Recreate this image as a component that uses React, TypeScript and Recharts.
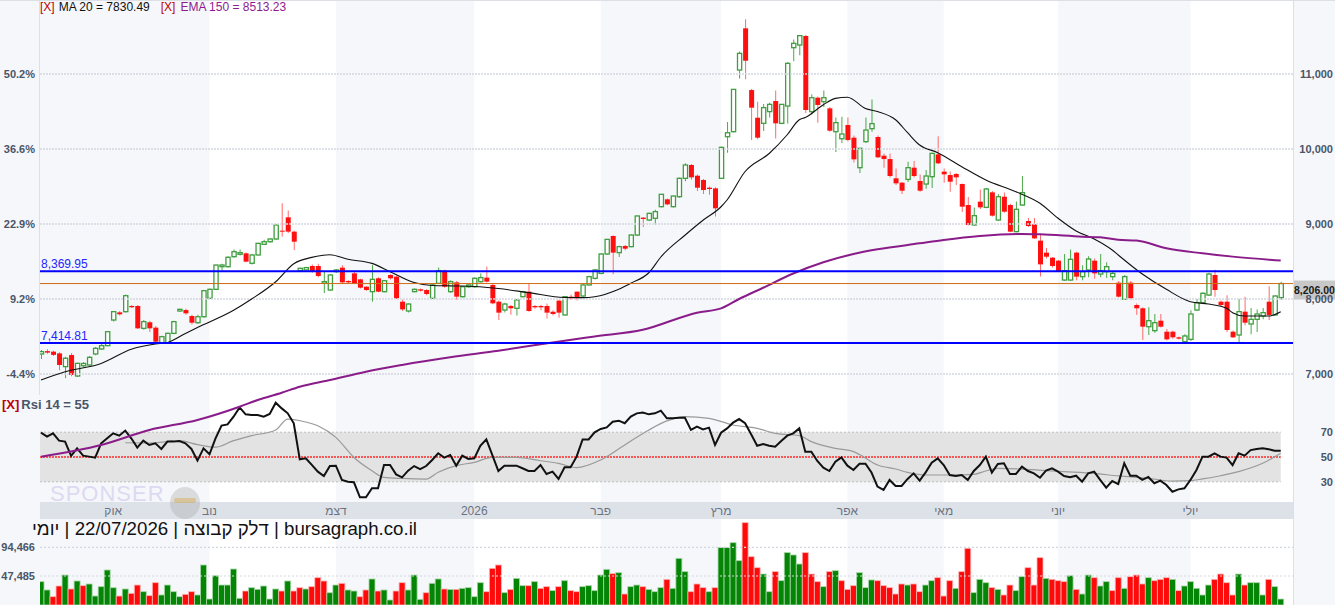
import React from 'react';
import { ComposedChart, Bar, Line, XAxis, YAxis, ReferenceLine, ReferenceArea } from 'recharts';

// daily candles (index 0 = first bar on the left)
const OPEN = [
  7267, 7305, 7298, 7275, 7098, 7253, 6973, 7110, 7120, 7267,
  7334, 7378, 7720, 7822, 7831, 7907, 7907, 7609, 7690, 7618,
  7418, 7418, 7542, 7840, 7853, 7773, 7684, 7764, 8009, 8129,
  8431, 8431, 8564, 8596, 8609, 8476, 8587, 8729, 8764, 8800,
  8911, 9089, 8898, 8378, 8387, 8440, 8440, 8209, 8120, 8365,
  8418, 8240, 8342, 8262, 8164, 8098, 8276, 8098, 8320, 8298,
  7964, 7840, 8098, 8129, 8120, 8009, 8209, 8378, 8098, 8222,
  8031, 8164, 8164, 8231, 8285, 8187, 7964, 7853, 7907, 7876,
  8031, 8098, 7907, 7907, 7907, 7830, 7978, 7787, 8031, 8098,
  8040, 8187, 8276, 8342, 8600, 8840, 8618, 8707, 8698, 8853,
  9085, 9053, 9076, 9231, 9329, 9231, 9364, 9609, 9787, 9644,
  9587, 9484, 9475, 9609, 10164, 10231, 11053, 11609, 10786, 10417,
  10342, 10498, 10640, 10342, 10573, 11351, 11387, 11507, 10498, 10684,
  10631, 10542, 10231, 10137, 10320, 10151, 9751, 10098, 10271, 10160,
  9911, 9866, 9609, 9551, 9595, 9751, 9573, 9533, 9631, 9929,
  9698, 9653, 9667, 9533, 9253, 8987, 9298, 9222, 9422, 9053,
  9364, 9253, 8898, 9253, 9040, 8996, 8778, 8618, 8551, 8511,
  8253, 8253, 8618, 8298, 8387, 8511, 8333, 8364, 8298, 8218,
  7996, 8218, 7920, 7876, 7631, 7578, 7711, 7564, 7564, 7489,
  7431, 7462, 7853, 7951, 8053, 8320, 7964, 7964, 7564, 7520,
  7831, 7667, 7729, 7773, 7964, 7787, 8018,
];
const HIGH = [
  7320, 7330, 7310, 7290, 7230, 7280, 7150, 7160, 7240, 7360,
  7400, 7570, 7840, 7840, 8060, 7920, 7920, 7720, 7710, 7640,
  7510, 7550, 7710, 7870, 7870, 7790, 7790, 8120, 8140, 8460,
  8470, 8570, 8660, 8660, 8620, 8600, 8750, 8790, 8810, 8990,
  9276, 9180, 8910, 8420, 8430, 8460, 8470, 8365, 8330, 8400,
  8450, 8250, 8360, 8270, 8170, 8453, 8290, 8250, 8330, 8310,
  7990, 7940, 8140, 8140, 8130, 8200, 8420, 8390, 8250, 8240,
  8170, 8200, 8290, 8342, 8431, 8200, 7980, 7950, 7920, 8000,
  8110, 8209, 7920, 7920, 7940, 7850, 7990, 8040, 8060, 8100,
  8200, 8310, 8400, 8610, 8800, 8850, 8710, 8720, 8860, 9110,
  9090, 9150, 9190, 9400, 9340, 9380, 9620, 9810, 9800, 9660,
  9600, 9500, 9490, 10030, 10360, 10800, 11300, 11730, 10800, 10630,
  10600, 10620, 10780, 10600, 11160, 11460, 11520, 11520, 10730, 10700,
  10780, 10560, 10420, 10430, 10420, 10180, 10010, 10420, 10660, 10180,
  9940, 9940, 9740, 9560, 9830, 9840, 9660, 9720, 9950, 10170,
  9740, 9700, 9680, 9540, 9360, 9220, 9460, 9480, 9440, 9400,
  9420, 9270, 9300, 9640, 9080, 9080, 8870, 8680, 8560, 8520,
  8600, 8660, 8630, 8450, 8570, 8540, 8600, 8490, 8360, 8240,
  8320, 8240, 7940, 7890, 7890, 7800, 7800, 7600, 7580, 7500,
  7530, 7850, 8000, 8090, 8350, 8390, 7980, 8050, 7580, 8000,
  8030, 7880, 7860, 7880, 8170, 8050, 8230,
];
const LOW = [
  7200, 7270, 7240, 7050, 6945, 6970, 6960, 7090, 7100, 7250,
  7320, 7370, 7700, 7780, 7820, 7880, 7600, 7590, 7560, 7400,
  7400, 7410, 7530, 7830, 7790, 7660, 7670, 7750, 8000, 8120,
  8380, 8420, 8550, 8580, 8490, 8460, 8580, 8720, 8750, 8790,
  8831, 8880, 8653, 8370, 8370, 8350, 8290, 8080, 8110, 8350,
  8200, 8210, 8200, 8140, 8110, 7964, 8090, 8090, 8260, 8000,
  7840, 7820, 8090, 8100, 8050, 8000, 8200, 8150, 8080, 7990,
  8020, 8150, 8150, 8220, 8220, 7930, 7720, 7820, 7790, 7780,
  8020, 7830, 7870, 7850, 7740, 7780, 7750, 7780, 7990, 7980,
  8030, 8180, 8260, 8330, 8590, 8330, 8560, 8650, 8690, 8840,
  8960, 9040, 8990, 9220, 9250, 9220, 9350, 9570, 9590, 9440,
  9400, 9390, 9100, 9600, 9950, 10220, 10940, 10930, 10120, 10130,
  10240, 10420, 10140, 10330, 10340, 11170, 11250, 10480, 10460, 10350,
  10560, 10230, 9960, 10080, 10100, 9820, 9680, 10080, 10230, 9880,
  9750, 9620, 9520, 9400, 9560, 9620, 9430, 9470, 9480, 9800,
  9550, 9430, 9520, 9160, 8980, 8980, 9200, 9210, 9100, 9040,
  9150, 8890, 8890, 9240, 8960, 8800, 8300, 8540, 8420, 8360,
  8240, 8240, 8250, 8250, 8290, 8270, 8290, 8280, 8250, 8020,
  7990, 7990, 7787, 7453, 7520, 7550, 7620, 7450, 7470, 7460,
  7420, 7440, 7840, 7940, 8040, 8030, 7900, 7560, 7480, 7420,
  7650, 7530, 7560, 7730, 7720, 7780, 7990,
];
const CLOSE = [
  7298, 7285, 7255, 7120, 7210, 6987, 7142, 7140, 7222, 7342,
  7378, 7564, 7831, 7796, 8044, 7890, 7609, 7698, 7609, 7431,
  7498, 7542, 7698, 7862, 7809, 7684, 7764, 8111, 8129, 8453,
  8453, 8556, 8631, 8618, 8498, 8587, 8742, 8764, 8800, 8987,
  8898, 8898, 8764, 8409, 8418, 8365, 8307, 8231, 8320, 8387,
  8222, 8222, 8209, 8151, 8120, 8262, 8098, 8244, 8276, 8009,
  7862, 7933, 8129, 8111, 8067, 8187, 8378, 8164, 8231, 8031,
  8164, 8187, 8276, 8285, 8231, 7942, 7818, 7933, 7876, 7987,
  8098, 7840, 7889, 7889, 7818, 7800, 7818, 8031, 8009, 8009,
  8187, 8298, 8387, 8600, 8795, 8618, 8698, 8671, 8853, 9107,
  9067, 9142, 9165, 9396, 9262, 9373, 9609, 9787, 9622, 9484,
  9453, 9466, 9209, 10022, 10217, 10795, 11275, 11177, 10551, 10151,
  10551, 10595, 10342, 10595, 11142, 11409, 11511, 10520, 10684, 10587,
  10684, 10244, 10351, 10200, 10120, 9862, 10009, 10253, 10338, 9889,
  9866, 9640, 9542, 9444, 9751, 9640, 9444, 9640, 9942, 9809,
  9662, 9564, 9622, 9231, 8987, 9111, 9222, 9467, 9111, 9364,
  9164, 8898, 9196, 9418, 8973, 8809, 8462, 8564, 8440, 8373,
  8378, 8529, 8298, 8364, 8533, 8342, 8378, 8431, 8342, 8031,
  8298, 8009, 7876, 7631, 7711, 7684, 7631, 7462, 7489, 7471,
  7507, 7800, 7951, 8076, 8333, 8120, 7920, 7587, 7489, 7831,
  7684, 7729, 7800, 7818, 7787, 8040, 8206,
];
const VOLUME = [
  38200, 24600, 13600, 31100, 49100, 26200, 39300, 31600, 34400, 14700,
  30000, 57300, 28300, 14700, 26200, 19100, 32700, 21800, 15300, 36500,
  16400, 32700, 21800, 13600, 17500, 21800, 16400, 65500, 9800, 48000,
  32700, 32700, 58900, 11000, 22900, 28300, 25700, 31100, 9800, 26200,
  22900, 39300, 22900, 28300, 26200, 30000, 44700, 39300, 20100, 32700,
  35500, 24600, 22900, 13600, 24600, 42600, 22900, 24600, 8200, 22900,
  36500, 24600, 49100, 9300, 20100, 35500, 42600, 26200, 25600, 25600,
  27300, 28400, 13600, 36500, 21800, 60000, 65500, 20200, 25600, 43600,
  31600, 31600, 38200, 27300, 30000, 23500, 30000, 39800, 23500, 21800,
  30000, 31600, 23500, 49100, 58400, 51300, 52900, 18000, 30000, 32700,
  30000, 25600, 21800, 28400, 42000, 27300, 76400, 54600, 21800, 34400,
  28400, 21800, 28400, 93900, 93900, 102000, 72600, 134800, 79100, 61100,
  50700, 21800, 54600, 39800, 85700, 81900, 67100, 85700, 50700, 38200,
  30000, 54600, 56200, 39800, 25600, 31600, 52900, 28400, 41000, 39800,
  31600, 28400, 18000, 34400, 32700, 34400, 21800, 32700, 39800, 44700,
  14700, 39800, 27300, 54600, 92800, 20200, 42000, 36500, 28400, 25600,
  16400, 32700, 23500, 46400, 61100, 32700, 77500, 43600, 42000, 39800,
  38200, 48000, 25600, 18000, 49100, 44700, 31100, 38200, 23500, 44700,
  27300, 46400, 49100, 34400, 44700, 39800, 42000, 44700, 42000, 23500,
  31100, 38200, 27300, 16400, 32700, 42000, 50700, 36500, 16400, 50700,
  32700, 36500, 36500, 16400, 42000, 30000, 9800,
];
// g = green volume bar, r = red volume bar
const VOL_DIR = (
  'ggrrgrgrgg' + 'gggrgrrgrr' + 'ggggrrgggg' + 'ggggrggggg' + 'rgrrgrrrgg' +
  'rggrrgrggr' + 'rgggrggrgr' + 'ggggrrrgrg' + 'grgrrgrgrr' + 'gggggrgrgg' +
  'rgggrgggrr' + 'rgrggggrrr' + 'ggrggggrrr' + 'grgrrrgggr' + 'rrrrgrrggr' +
  'rrgrrgggrg' + 'rrggrrrgrr' + 'rgrggrggrr' + 'grrrgrrrgr' + 'gggggrrrrg' + 'rgggrgg'
).split('');
const RSI = [
  69.6, 66.4, 69.1, 63.2, 62.4, 50.9, 57.0, 51.1, 50.3, 49.5,
  61.0, 65.1, 69.1, 67.2, 71.3, 65.1, 57.6, 63.2, 59.7, 61.0,
  56.5, 62.4, 62.4, 62.9, 61.0, 56.5, 47.1, 57.0, 52.2, 65.1,
  75.3, 76.3, 82.5, 90.0, 84.4, 83.9, 83.9, 82.5, 84.7, 93.8,
  89.2, 85.2, 77.2, 48.1, 49.0, 43.6, 38.2, 34.7, 42.7, 43.0,
  31.5, 30.1, 29.6, 17.5, 17.5, 24.8, 24.8, 43.6, 43.6, 36.0,
  33.6, 39.0, 42.7, 40.3, 42.7, 47.6, 53.0, 49.5, 51.6, 43.0,
  51.1, 48.4, 48.9, 59.1, 64.2, 51.6, 38.7, 43.0, 43.0, 43.0,
  40.9, 38.7, 38.7, 43.5, 36.3, 38.2, 32.3, 41.7, 41.7, 50.3,
  64.2, 64.2, 69.9, 72.6, 73.9, 78.5, 79.3, 77.2, 82.6, 85.2,
  85.8, 84.4, 85.2, 87.4, 81.2, 81.2, 81.7, 81.7, 71.8, 74.5,
  72.3, 73.7, 59.7, 69.6, 73.1, 77.7, 80.6, 77.2, 68.3, 59.1,
  60.5, 59.1, 58.3, 62.9, 67.2, 69.1, 73.1, 54.3, 54.3, 46.8,
  41.4, 38.7, 46.2, 49.7, 43.0, 39.5, 44.6, 44.6, 37.5, 26.1,
  23.4, 31.5, 26.6, 26.6, 32.3, 36.8, 30.9, 37.6, 45.4, 48.9,
  43.5, 35.5, 34.7, 35.5, 31.5, 38.7, 43.5, 50.3, 37.4, 44.4,
  44.9, 36.3, 36.3, 42.2, 38.7, 36.8, 33.3, 39.0, 40.9, 38.2,
  34.7, 33.6, 34.9, 30.1, 36.8, 38.2, 31.5, 25.3, 30.6, 28.2,
  44.9, 34.9, 34.9, 31.5, 33.9, 28.8, 30.9, 27.4, 22.0, 23.9,
  24.8, 31.5, 39.5, 50.3, 50.3, 53.0, 50.3, 49.5, 43.5, 53.0,
  51.1, 55.6, 56.5, 57.0, 56.2, 55.1, 55.0,
];

// indicator lines, sampled at the bars where they were read
const MA20_AT = [0, 4, 10, 15, 19, 21, 24, 26, 32, 35, 39, 42, 45, 48, 51, 55, 58, 62, 65, 68, 70, 76, 81, 87, 90, 92, 96, 98, 101, 103, 107, 110, 113, 114, 117, 121, 124, 126, 127, 130, 132, 134, 137, 139, 142, 144, 146, 149, 153, 157, 162, 166, 169, 172, 175, 178, 179, 183, 187, 191, 194, 197, 198, 200, 204, 206];
const MA20 = [6920, 7030, 7140, 7330, 7400, 7420, 7540, 7620, 7850, 8000, 8230, 8470, 8555, 8590, 8530, 8475, 8365, 8220, 8180, 8175, 8173, 8140, 8085, 8020, 8018, 8030, 8130, 8210, 8350, 8560, 8850, 9050, 9230, 9320, 9700, 9940, 10190, 10390, 10420, 10590, 10675, 10690, 10540, 10500, 10390, 10217, 10053, 9951, 9764, 9587, 9431, 9276, 9076, 8907, 8800, 8653, 8587, 8333, 8129, 7964, 7933, 7876, 7818, 7773, 7773, 7830];
const EMA150_AT = [0, 10, 18, 26, 33, 36, 40, 43, 48, 54, 60, 68, 76, 85, 92, 100, 109, 113, 116, 120, 125, 130, 135, 139, 146, 150, 156, 163, 166, 173, 176, 179, 182, 187, 193, 198, 206];
const EMA150 = [5898, 6053, 6253, 6387, 6564, 6653, 6750, 6831, 6920, 7031, 7120, 7222, 7310, 7420, 7500, 7590, 7818, 7875, 8000, 8150, 8340, 8490, 8600, 8662, 8742, 8787, 8840, 8867, 8862, 8831, 8822, 8790, 8780, 8676, 8609, 8565, 8513];
const RSI_MA_AT = [14, 18, 23, 26, 29, 32, 35, 39, 41, 43, 46, 49, 52, 55, 57, 60, 64, 66, 69, 72, 75, 79, 83, 86, 89, 93, 97, 101, 104, 107, 111, 115, 119, 122, 126, 128, 132, 135, 136, 139, 142, 144, 147, 151, 155, 157, 159, 163, 167, 170, 175, 179, 184, 188, 191, 193, 196, 199, 203, 206];
const RSI_MA = [61.5, 61.3, 63.2, 60.0, 57.9, 63.2, 67.2, 71.8, 80.6, 79.3, 75.2, 65.8, 49.6, 38.9, 33.5, 32.7, 32.2, 37.7, 43.0, 45.7, 49.7, 49.7, 47.0, 44.9, 41.4, 47.6, 59.7, 71.8, 79.1, 82.6, 81.2, 75.8, 73.1, 69.1, 67.2, 62.4, 57.0, 54.3, 52.0, 43.5, 40.3, 37.6, 35.5, 35.5, 36.0, 38.7, 40.9, 40.3, 39.0, 38.2, 36.8, 34.7, 32.8, 30.6, 30.9, 32.3, 34.9, 38.2, 44.9, 53.0];

const PRICE_TICKS = [7000, 8000, 9000, 10000, 11000];
const PCT_LABELS = ['-4.4%', '9.2%', '22.9%', '36.6%', '50.2%'];
const VOL_TICKS = [47485, 94466];
const RSI_TICKS = [30, 50, 70];
const MONTH_AT = [12, 28, 49, 72, 93, 113, 134, 150, 169, 191];
const MONTH_LABELS = ['אוק', 'נוב', 'דצמ', '2026', 'פבר', 'מרץ', 'אפר', 'מאי', 'יוני', 'יולי'];
const WHITE_FROM = [28, 72, 113, 150, 191];
const WHITE_TO = [49, 93, 134, 169, 999];
const LEVEL_HIGH = 8369.95;
const LEVEL_LOW = 7414.81;
const LAST = 8206;

const W = 1335;
const X_MIN = -0.166;
const X_MAX = 208.04;
const PRICE_DOMAIN = [5320, 11986.7];
const FONT = '"Liberation Sans", Arial, Helvetica, sans-serif';
const AXIS_TXT = '#4a5568';
const UP = '#3f9e3f';
const DN = '#ff1010';

function pick(at: number[], vals: number[], i: number) {
  const k = at.indexOf(i);
  return k < 0 ? null : vals[k];
}

const rows = OPEN.map((o, i) => ({
  i,
  o,
  h: HIGH[i],
  l: LOW[i],
  c: CLOSE[i],
  hl: [LOW[i], HIGH[i]],
  v: VOLUME[i],
  d: VOL_DIR[i],
  rsi: RSI[i],
  ma: pick(MA20_AT, MA20, i),
  ema: pick(EMA150_AT, EMA150, i),
  rma: pick(RSI_MA_AT, RSI_MA, i),
}));

const fmt = (v: number) => v.toLocaleString('en-US');

const Candle = (p: any) => {
  const { x, y, width, height, payload } = p;
  if (x == null || !payload) return null;
  const { o, h, l, c } = payload;
  const span = h - l || 1;
  const at = (v: number) => y + ((h - v) / span) * height;
  const cx = x + width / 2;
  const up = c >= o;
  const top = at(Math.max(o, c));
  const bh = Math.max(1, at(Math.min(o, c)) - top);
  return (
    <g>
      <line x1={cx} x2={cx} y1={y} y2={y + height} stroke={up ? '#4aa84a' : '#ff6a6a'} strokeWidth={1} />
      {up ? (
        <rect x={x + 0.4} y={top} width={width - 0.8} height={bh} fill="#fff" stroke={UP} strokeWidth={1.3} />
      ) : (
        <rect x={x} y={top} width={width} height={bh} fill={DN} />
      )}
    </g>
  );
};

const VolBar = (p: any) => {
  const { x, y, width, height, payload } = p;
  if (x == null || !payload) return null;
  const up = payload.d === 'g';
  return (
    <rect x={x} y={y} width={width} height={height} fill={up ? '#058505' : '#ff0a0a'}
      stroke={up ? '#a8d8a8' : '#ffb4b4'} strokeWidth={0.8} />
  );
};

const RightTick = (p: any) => (
  <text x={p.x + 40} y={p.y} dy={4} textAnchor="end" fill={AXIS_TXT} fontSize={11} fontWeight="bold" fontFamily={FONT}>
    {fmt(p.payload.value)}
  </text>
);

const MonthTick = (p: any) => (
  <text x={p.x} y={p.y + 13} textAnchor="middle" fill="#6b7280" fontSize={12} fontFamily={FONT}>
    {MONTH_LABELS[MONTH_AT.indexOf(p.payload.value)]}
  </text>
);

const LevelLabel = ({ viewBox, text }: any) => (
  <text x={viewBox.x + 1} y={viewBox.y - 3} fill="#2424ff" fontSize={12} fontFamily={FONT}>{text}</text>
);

const LastLabel = ({ viewBox, text }: any) => (
  <g>
    <rect x={viewBox.x + viewBox.width} y={viewBox.y - 3} width={42} height={19} fill="#c8c8c8" />
    <text x={viewBox.x + viewBox.width + 1} y={viewBox.y + 10} fill="#1a1a1a" fontSize={10.5} fontWeight="bold" fontFamily={FONT}>{text}</text>
  </g>
);

const leftTick = { fill: AXIS_TXT, fontSize: 11, fontWeight: 'bold', fontFamily: FONT };

function Backdrop() {
  return (
    <ComposedChart width={W} height={605} data={rows} margin={{ top: 0, right: 42, bottom: 0, left: 40 }}>
      <XAxis type="number" dataKey="i" domain={[X_MIN, X_MAX]} allowDataOverflow hide />
      <YAxis domain={[0, 1]} allowDataOverflow hide />
      {WHITE_FROM.map((a, k) => (
        <ReferenceArea key={a} x1={a} x2={Math.min(WHITE_TO[k], X_MAX)} y1={0} y2={1} fill="#ffffff" fillOpacity={1} stroke="none" />
      ))}
    </ComposedChart>
  );
}

function PriceChart() {
  return (
    <ComposedChart width={W} height={500} data={rows} margin={{ top: 0, right: 0, bottom: 0, left: 0 }}>
      <XAxis type="number" dataKey="i" domain={[X_MIN, X_MAX]} allowDataOverflow hide />
      <YAxis yAxisId="pct" orientation="left" width={40} domain={PRICE_DOMAIN} allowDataOverflow ticks={PRICE_TICKS}
        interval={0} tickFormatter={(v: number) => PCT_LABELS[PRICE_TICKS.indexOf(v)]} axisLine={false} tickLine={false}
        tickSize={0} tickMargin={5} tick={leftTick} />
      <YAxis yAxisId="px" orientation="right" width={42} domain={PRICE_DOMAIN} allowDataOverflow ticks={PRICE_TICKS}
        interval={0} axisLine={false} tickLine={false} tickSize={0} tickMargin={0} tick={(p: any) => <RightTick {...p} />} />
      {PRICE_TICKS.map((p) => (
        <ReferenceLine key={p} yAxisId="px" y={p} stroke="#d3d8e0" strokeWidth={1.6} strokeDasharray="2 1" />
      ))}
      <Bar yAxisId="px" dataKey="hl" barSize={5} shape={(p: any) => <Candle {...p} />} isAnimationActive={false} />
      <Line yAxisId="px" dataKey="ma" type="monotone" stroke="#111" strokeWidth={1.1} dot={false} connectNulls isAnimationActive={false} />
      <Line yAxisId="px" dataKey="ema" type="monotone" stroke="#8a1c8a" strokeWidth={2} dot={false} connectNulls isAnimationActive={false} />
      <ReferenceLine yAxisId="px" y={LAST} stroke="#cf6a12" strokeWidth={1} label={<LastLabel text="8,206.00" />} />
      <ReferenceLine yAxisId="px" y={LEVEL_HIGH} stroke="#0000ff" strokeWidth={2} label={<LevelLabel text="8,369.95" />} />
      <ReferenceLine yAxisId="px" y={LEVEL_LOW} stroke="#0000ff" strokeWidth={2} label={<LevelLabel text="7,414.81" />} />
    </ComposedChart>
  );
}

function RsiChart() {
  return (
    <ComposedChart width={W} height={124} data={rows} margin={{ top: 0, right: 0, bottom: 0, left: 40 }}>
      <XAxis type="number" dataKey="i" domain={[X_MIN, X_MAX]} allowDataOverflow ticks={MONTH_AT} interval={0}
        height={17} axisLine={false} tickLine={false} tickSize={0} tickMargin={0} tick={(p: any) => <MonthTick {...p} />} />
      <YAxis orientation="right" width={42} domain={[13.71, 100]} allowDataOverflow ticks={RSI_TICKS} interval={0}
        axisLine={false} tickLine={false} tickSize={0} tickMargin={0} tick={(p: any) => <RightTick {...p} />} />
      <ReferenceArea x1={X_MIN} x2={206} y1={30} y2={70} fill="#e3e3e3" fillOpacity={1} stroke="none" />
      <ReferenceLine segment={[{ x: X_MIN, y: 70 }, { x: 206, y: 70 }]} stroke="#bdbdbd" strokeDasharray="2 2" />
      <ReferenceLine segment={[{ x: X_MIN, y: 30 }, { x: 206, y: 30 }]} stroke="#bdbdbd" strokeDasharray="2 2" />
      <ReferenceLine segment={[{ x: X_MIN, y: 50 }, { x: 206, y: 50 }]} stroke="#ff2a2a" strokeWidth={1.5} strokeDasharray="2 1" />
      <Line dataKey="rma" type="monotone" stroke="#9a9a9a" strokeWidth={1.2} dot={false} connectNulls isAnimationActive={false} />
      <Line dataKey="rsi" type="linear" stroke="#111" strokeWidth={2} dot={false} isAnimationActive={false} />
    </ComposedChart>
  );
}

function VolumeChart() {
  return (
    <ComposedChart width={W} height={87} data={rows} margin={{ top: 0, right: 42, bottom: 0, left: 0 }}>
      <XAxis type="number" dataKey="i" domain={[X_MIN, X_MAX]} allowDataOverflow hide />
      <YAxis orientation="left" width={40} domain={[0, 142420]} allowDataOverflow ticks={VOL_TICKS} interval={0}
        tickFormatter={fmt} axisLine={false} tickLine={false} tickSize={0} tickMargin={5} tick={leftTick} />
      {VOL_TICKS.map((v) => (
        <ReferenceLine key={v} y={v} stroke="#d3d8e0" strokeWidth={1.2} strokeDasharray="2 2" />
      ))}
      <Bar dataKey="v" barSize={6} shape={(p: any) => <VolBar {...p} />} isAnimationActive={false} />
    </ComposedChart>
  );
}

const abs = (top: number, extra: React.CSSProperties = {}): React.CSSProperties => ({ position: 'absolute', left: 0, top, ...extra });

export default function App() {
  return (
    <div style={{ position: 'relative', width: W, height: 605, background: '#f5f7fa', overflow: 'hidden', fontFamily: FONT }}>
      <style>{'body{margin:0}'}</style>
      <div style={abs(0)}><Backdrop /></div>
      <div style={{ position: 'absolute', left: 40, top: 502, width: 1254, height: 17, background: '#dde2e9' }} />
      <div style={abs(395)}><RsiChart /></div>
      <div style={abs(0)}><PriceChart /></div>
      <div style={abs(518)}><VolumeChart /></div>

      <div style={{ position: 'absolute', left: 0, top: 0, width: W, height: 1, background: '#dcdfe4' }} />
      <div style={{ position: 'absolute', left: 39, top: 0, width: 1, height: 395, background: '#dcdfe4' }} />
      <div style={{ position: 'absolute', left: 1293, top: 0, width: 1, height: 605, background: '#dcdfe4' }} />

      <div style={{ position: 'absolute', left: 40, top: 0, fontSize: 12, lineHeight: '14px', whiteSpace: 'nowrap', color: '#111' }}>
        <span style={{ color: '#c00000', marginRight: 4 }}>[X]</span>MA 20 = 7830.49
        <span style={{ color: '#c00000', marginLeft: 11, marginRight: 5 }}>[X]</span>
        <span style={{ color: '#8e1a8e' }}>EMA 150 = 8513.23</span>
      </div>

      <div style={{ position: 'absolute', left: 2, top: 397, fontSize: 13, lineHeight: '15px', fontWeight: 'bold', whiteSpace: 'nowrap' }}>
        <span style={{ color: '#c00000' }}>[X]</span>
        <span style={{ color: AXIS_TXT, marginLeft: 2 }}>Rsi 14 = 55</span>
      </div>

      <div style={{ position: 'absolute', left: 50, top: 486, fontSize: 22, lineHeight: '16px', color: '#ded9f2', letterSpacing: 1, whiteSpace: 'nowrap' }}>
        SPONSER
      </div>
      <svg style={{ position: 'absolute', left: 166, top: 484 }} width={40} height={36}>
        <ellipse cx={19} cy={19} rx={15} ry={16} fill="#9a9a9a" opacity={0.3} />
        <rect x={8} y={14} width={22} height={5} rx={2} fill="#d4a23a" opacity={0.4} />
      </svg>

      <div dir="rtl" style={{ position: 'absolute', left: 40, top: 518, width: 377, fontSize: 18.7, lineHeight: '21px', color: '#111', whiteSpace: 'nowrap' }}>
        bursagraph.co.il | דלק קבוצה | 22/07/2026 | יומי
      </div>
    </div>
  );
}
